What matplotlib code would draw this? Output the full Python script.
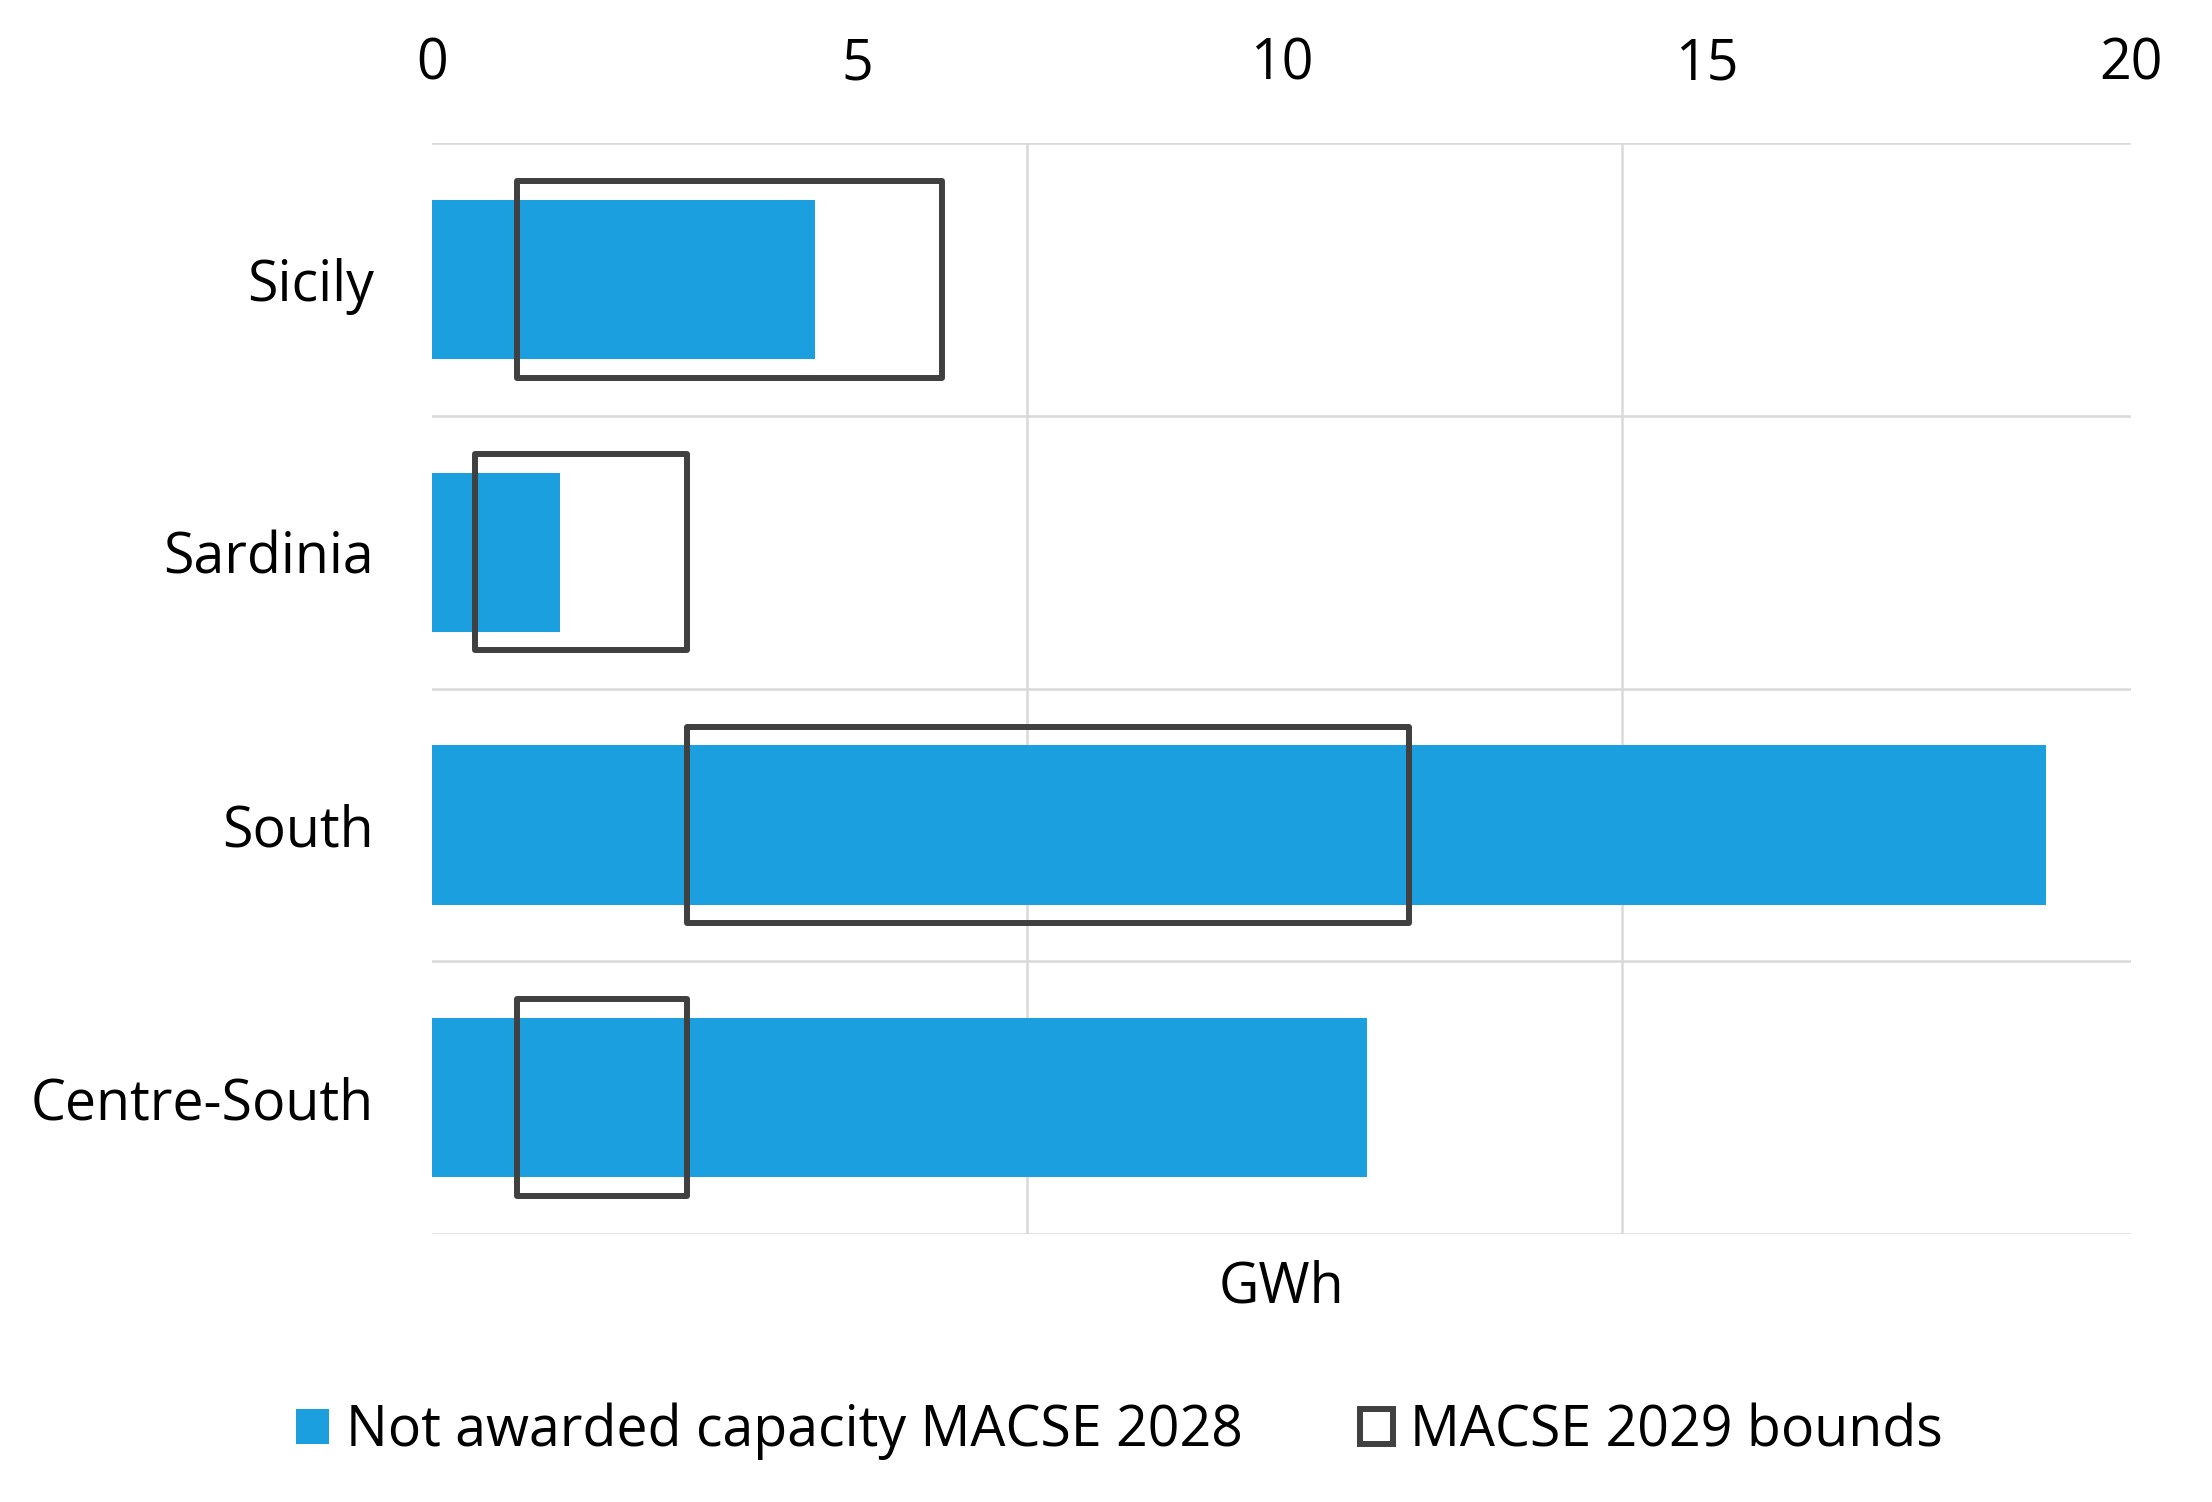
import numpy as np
from matplotlib import pyplot as plt
from matplotlib.patches import Patch

# data (GWh)
regions = ['Sicily', 'Sardinia', 'South', 'Centre-South']
not_awarded = [4.5, 1.5, 19.0, 11.0]   # Not awarded capacity MACSE 2028
bound_low = [1.0, 0.5, 3.0, 1.0]       # MACSE 2029 bounds
bound_high = [6.0, 3.0, 11.5, 3.0]
xticks_top = [0, 5, 10, 15, 20]
xgrid = [0, 7, 14]

plt.rcParams['font.family'] = ['Open Sans', 'DejaVu Sans']
plt.rcParams['font.size'] = 40

blue = '#1B9FDF'
dark = '#404040'
grid_col = '#D9D9D9'

fig = plt.figure(figsize=(22.12, 15.02), dpi=100)
ax = fig.add_axes([0.1955, 0.1785, 0.768, 0.7261])

y = np.arange(len(regions))
low = np.array(bound_low)
high = np.array(bound_high)

ax.barh(y, not_awarded, height=0.585, color=blue, zorder=2)
ax.barh(y, high - low, left=low, height=0.72, fill=False, edgecolor=dark,
        linewidth=4.3, joinstyle='round', zorder=3)

ax.set_xlim(0, 20)
ax.set_ylim(len(regions) - 0.5, -0.5)

# top tick labels
ax.xaxis.tick_top()
ax.set_xticks(xticks_top)
ax.tick_params(axis='x', which='major', length=0, pad=36)

# vertical grid on minor ticks
ax.set_xticks(xgrid, minor=True)
ax.tick_params(axis='x', which='minor', length=0)
ax.grid(axis='x', which='minor', color=grid_col, linewidth=1.8, zorder=0)

# horizontal separators between categories
ax.set_yticks(y)
ax.set_yticklabels(regions)
ax.set_yticks(np.arange(len(regions) + 1) - 0.5, minor=True)
ax.tick_params(axis='y', which='both', length=0)
ax.tick_params(axis='y', which='major', pad=42)
ax.grid(axis='y', which='minor', color=grid_col, linewidth=1.8, zorder=0)

for s in ['top', 'right', 'bottom', 'left']:
    ax.spines[s].set_visible(False)
ax.set_axisbelow(True)

fig.text(0.1955 + 0.768 / 2, 0.1426, 'GWh', ha='center', va='center')

handles = [Patch(facecolor=blue, edgecolor='none', label='Not awarded capacity MACSE 2028'),
           Patch(facecolor='white', edgecolor=dark, linewidth=4.3, label='MACSE 2029 bounds')]
fig.legend(handles=handles, loc='center', bbox_to_anchor=(0.506, 0.047), ncol=2,
           frameon=False, handlelength=0.6, handleheight=0.6, handletextpad=0.3,
           columnspacing=2.1)

fig.savefig('out.png', dpi=100)
